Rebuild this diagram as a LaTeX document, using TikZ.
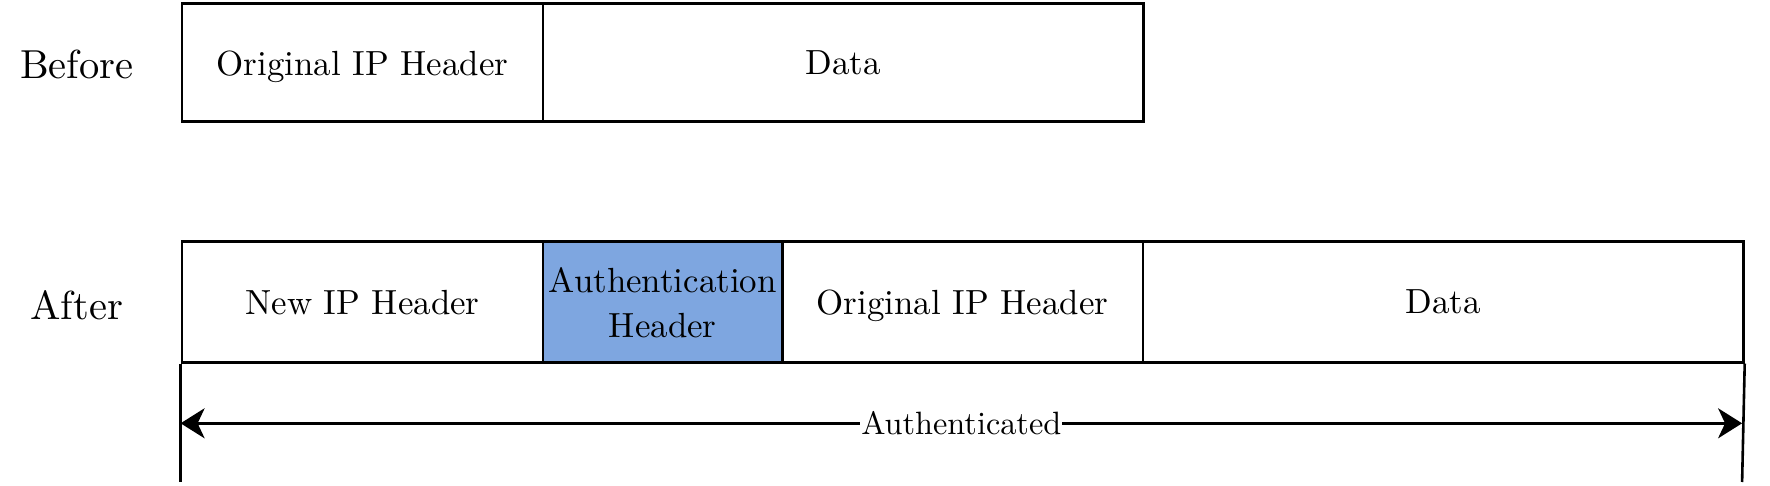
\documentclass[tikz,border=0pt]{standalone}
\usepackage{fontspec}
\setmainfont{lmroman10-regular}[Extension=.otf]
\usetikzlibrary{arrows.meta}
\definecolor{ahblue}{HTML}{7EA6E0}
\newcommand{\bodyfont}{\fontsize{34.9}{45}\selectfont}
\newcommand{\labelfont}{\fontsize{40.5}{46}\selectfont}
\newcommand{\edgefont}{\fontsize{32.3}{38}\selectfont}
\begin{document}
\begin{tikzpicture}[x=1pt,y=-1pt,
  cell/.style={draw, line width=2.6pt, inner sep=0pt, anchor=north west, font=\bodyfont, align=center, text depth=0pt},
  rowlabel/.style={font=\labelfont, inner sep=0pt},
  conn/.style={line width=2.6pt},
  tip/.style={-{Stealth[length=24pt,width=30pt,inset=7pt]}}]
\useasboundingbox (0,0) rectangle (1770,486);
% Before row
\node[cell, minimum width=361.2pt, minimum height=118pt] (b1) at (180.6,2.5) {Original IP Header};
\node[cell, minimum width=600.6pt, minimum height=118pt] (b2) at (541.8,2.5) {Data};
\node[rowlabel] (before) at (76.8,64) {Before};
% After row
\node[cell, minimum width=361.2pt, minimum height=120.5pt] (a1) at (180.6,240.5) {New IP Header};
\node[cell, minimum width=239.3pt, minimum height=120.5pt, fill=ahblue] (a2) at (541.8,240.5) {Authentication\\Header};
\node[cell, minimum width=360.4pt, minimum height=120.5pt] (a3) at (781.1,240.5) {Original IP Header};
\node[cell, minimum width=600.6pt, minimum height=120.5pt] (a4) at (1141.5,240.5) {Data};
\node[rowlabel] (after) at (76.8,305) {After};
% Extent lines
\coordinate (l1) at (180.6,482);
\coordinate (r1) at (1742.1,482);
\draw[conn] (a1.south west) -- (l1);
\draw[conn] (a4.south east) -- (r1);
\coordinate (al) at (180.6,423.3);
\coordinate (ar) at (1742.1,423.3);
\draw[conn, tip] (961.3,423.3) -- (ar);
\draw[conn, tip] (961.3,423.3) -- (al);
\node[font=\edgefont, fill=white, inner sep=1pt] (auth) at (961.3,423.3) {Authenticated};
\end{tikzpicture}
\end{document}
